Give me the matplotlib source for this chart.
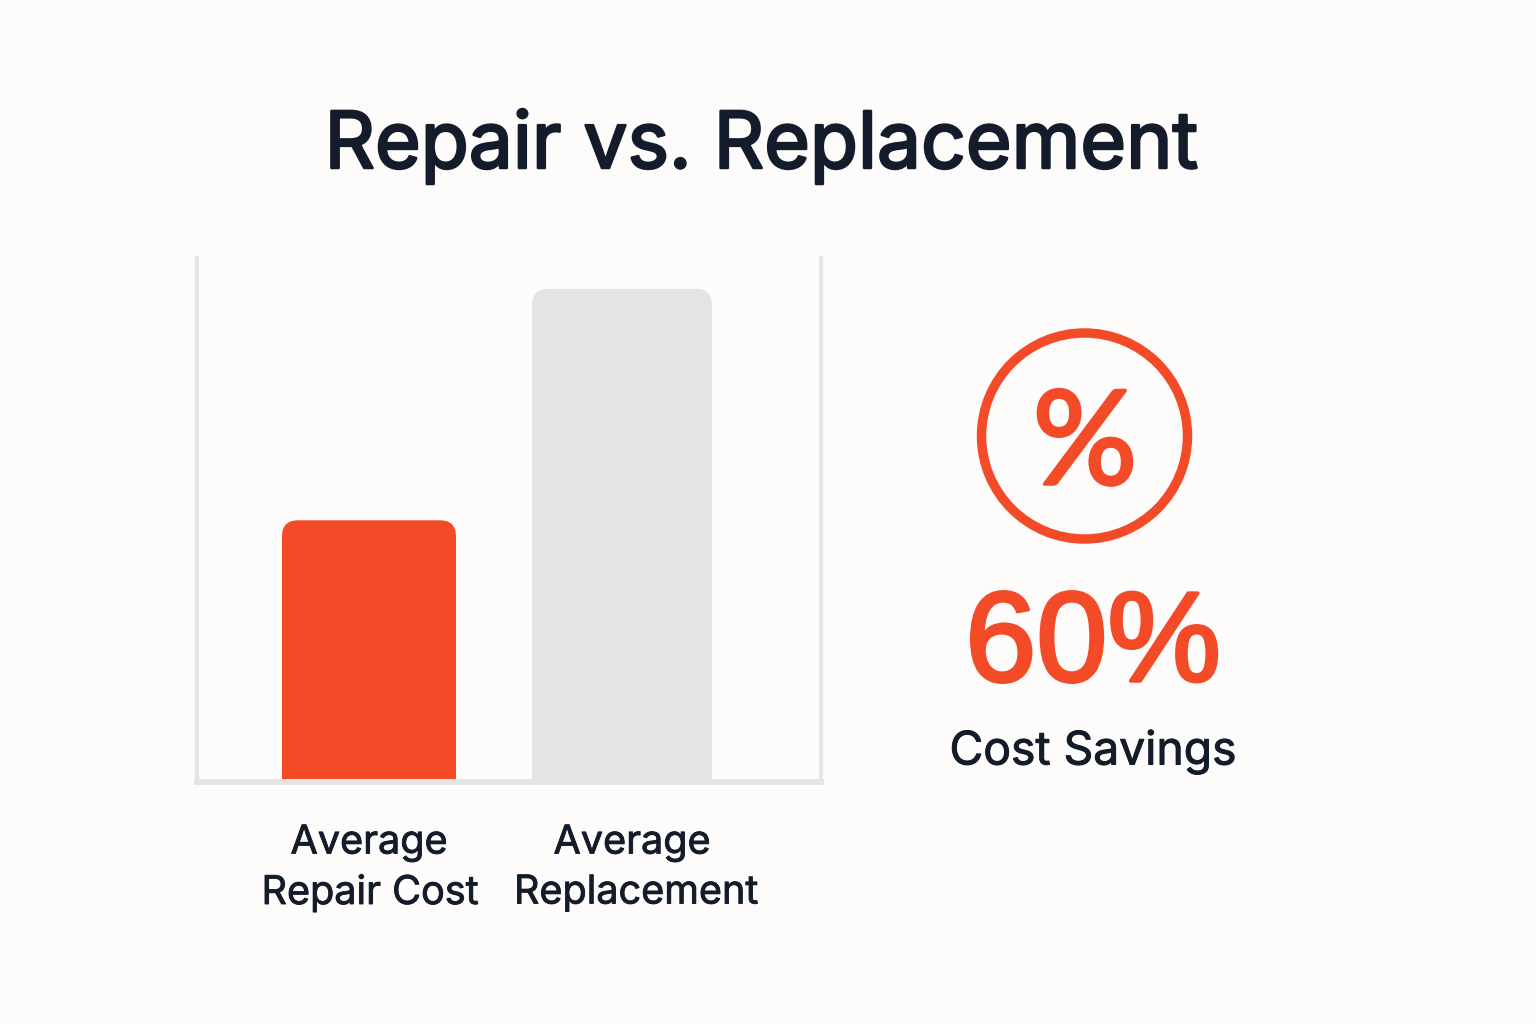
# -*- coding: utf-8 -*-
import matplotlib
matplotlib.use("Agg")
import matplotlib.pyplot as plt
import matplotlib.patheffects as pe
from matplotlib.patches import FancyBboxPatch, Circle

# Datos
categorias = ["Average\nRepair Cost", "Average\nReplacement"]
valores = [39.8, 75]
colores = ["#F34A28", "#E5E4E2"]
ahorro = "60%"

plt.rcParams['font.family'] = ['Inter', 'DejaVu Sans']

fondo = "#FDFCFA"
oscuro = "#141C2B"
rojo = "#F34A28"

fig = plt.figure(figsize=(15.36, 10.24), dpi=100, facecolor=fondo)


def grueso(ancho, color):
    # se engrosa la letra con un trazo
    return [pe.withStroke(linewidth=ancho, foreground=color)]


# Capa en pixeles para textos y simbolo
capa = fig.add_axes([0, 0, 1, 1])
capa.set_xlim(0, 1536)
capa.set_ylim(1024, 0)
capa.axis("off")

capa.text(761, 146, "Repair vs. Replacement", fontsize=56.5, color=oscuro,
          ha="center", va="center", path_effects=grueso(1.8, oscuro))

capa.add_patch(Circle((1084.5, 436), 103, fill=False, ec=rojo, lw=6.8))
capa.text(1085, 447, "%", fontsize=94, color=rojo, ha="center", va="center",
          family="Lato", path_effects=grueso(2.5, rojo))
capa.text(1093, 648, ahorro, fontsize=92, color=rojo, ha="center", va="center",
          family="Liberation Sans", path_effects=grueso(2.5, rojo))
capa.text(1093, 752, "Cost Savings", fontsize=33.3, color=oscuro, ha="center",
          va="center", path_effects=grueso(0.7, oscuro))

# Barras: eje x en pixeles de la imagen, eje y en valores
izq, der = 197, 821
arriba, abajo = 256, 782
ax = fig.add_axes([izq/1536, 1-abajo/1024, (der-izq)/1536, (abajo-arriba)/1024])
ax.patch.set_alpha(0)
ax.set_xlim(izq, der)
ax.set_ylim(0, 80)
ax.set_xticks([])
ax.set_yticks([])
ax.spines["top"].set_visible(False)
for lado, ancho in [("left", 3), ("right", 2.6), ("bottom", 4.3)]:
    ax.spines[lado].set_color("#E4E4E2")
    ax.spines[lado].set_linewidth(ancho)
    ax.spines[lado].set_capstyle("butt")
ax.spines["bottom"].set_capstyle("projecting")

x_barras = [(282, 456), (532, 712)]
escala_y = (abajo-arriba)/80
for (x0, x1), v, c in zip(x_barras, valores, colores):
    # y esta en valores, mutation_aspect corrige el radio
    r = 16
    ax.add_patch(FancyBboxPatch((x0, 0), x1-x0, v,
                                boxstyle=f"round,pad=0,rounding_size={r}",
                                mutation_aspect=1/escala_y, fc=c, ec="none"))
    # esquinas de abajo rectas
    ax.add_patch(plt.Rectangle((x0, 0), x1-x0, v/2, fc=c, ec="none"))

xs_etq = [370, 636]
for x, t, dx in zip(xs_etq, categorias, [-1, -4]):
    l1, l2 = t.split("\n")
    capa.text(x+dx, 843, l1, fontsize=28.5, color=oscuro, ha="center", va="center",
              path_effects=grueso(0.6, oscuro))
    capa.text(x, 893, l2, fontsize=28.5, color=oscuro, ha="center", va="center",
              path_effects=grueso(0.6, oscuro))

plt.savefig("out.png", dpi=100, facecolor=fondo)
